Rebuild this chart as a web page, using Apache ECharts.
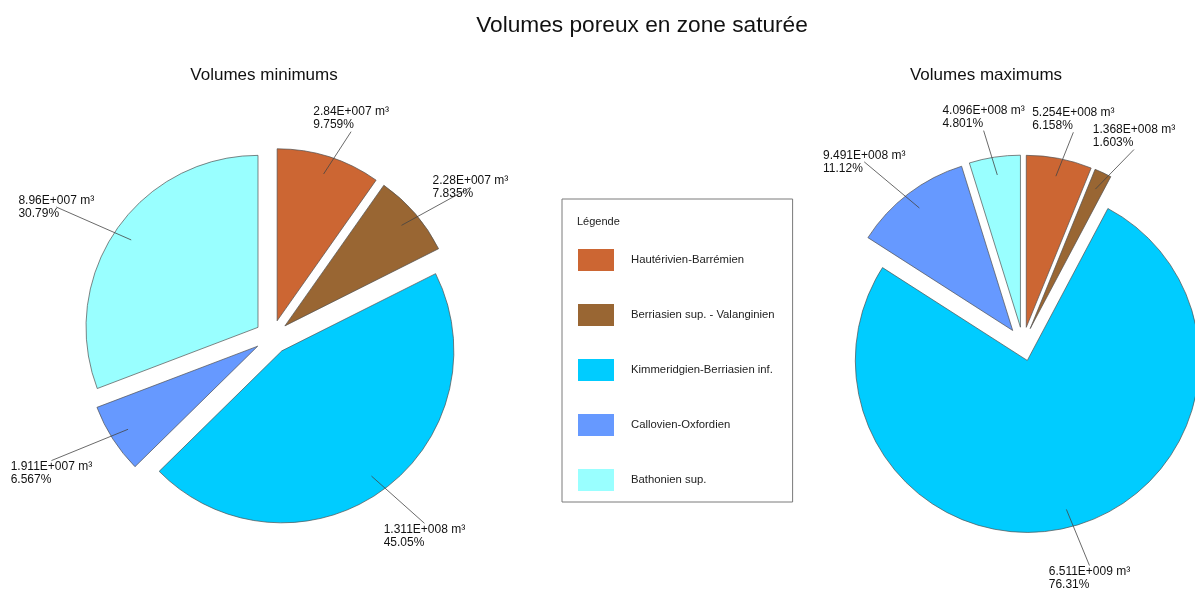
<!DOCTYPE html>
<html>
<head>
<meta charset="utf-8">
<script src="https://cdn.jsdelivr.net/npm/echarts@6/dist/echarts.min.js"></script>
<style>
  html, body { margin: 0; padding: 0; background: #ffffff; }
  #chart { width: 1195px; height: 589px; }
</style>
</head>
<body>
<div id="chart"></div>
<script>
// Geological units (slice order, clockwise from 12 o'clock)
const units = [
  'Hautérivien-Barrémien',
  'Berriasien sup. - Valanginien',
  'Kimmeridgien-Berriasien inf.',
  'Callovien-Oxfordien',
  'Bathonien sup.'
];
// Pore volumes in the saturated zone (m³)
const volumesMin = [2.84e7, 2.28e7, 1.311e8, 1.911e7, 8.96e7];
const volumesMax = [5.254e8, 1.368e8, 6.511e9, 9.491e8, 4.096e8];

const unitColors = ['#CC6633', '#996633', '#00CCFF', '#6699FF', '#99FFFF'];

const FONT = 'Liberation Sans, Arial, sans-serif';
const CLEAR = 'rgba(0,0,0,0)';

// 2.84E+007 style: 4 significant digits, trailing zeros dropped, 3-digit exponent
function sciText(v) {
  const exp = Math.floor(Math.log10(v));
  let mant = (v / Math.pow(10, exp)).toPrecision(4);
  mant = mant.replace(/\.?0+$/, '');
  return mant + 'E+' + String(exp).padStart(3, '0');
}

function makeFormatter(values) {
  const total = values.reduce((a, b) => a + b, 0);
  return function (p) {
    const pct = (p.value / total * 100).toPrecision(4);
    return sciText(p.value) + ' m³\n' + pct + '%';
  };
}

// Labels sit past the end of their leader line, drifting sideways with the
// line's direction; lower labels hang below the line, upper ones are centred on it.
const LABEL_DRIFT = 33;
function placeLabel(params) {
  const pts = params.labelLinePoints;
  if (!pts) return {};
  const start = pts[0];
  const end = pts[pts.length - 1];
  const w = params.labelRect.width;
  const h = params.labelRect.height;
  const ddx = end[0] - start[0];
  const ddy = end[1] - start[1];
  const len = Math.sqrt(ddx * ddx + ddy * ddy) || 1;
  const ux = ddx / len;
  const uy = ddy / len;
  const midX = end[0] + LABEL_DRIFT * ux;
  let top, tipY;
  if (uy > 0) {
    top = end[1];
    tipY = end[1];
  } else {
    top = end[1] - h / 2;
    tipY = Math.abs(uy) > 0.85 ? top + h : end[1];
  }
  return {
    x: midX - w / 2,
    y: top,
    align: 'left',
    verticalAlign: 'top',
    labelLinePoints: [start, [midX, tipY]]
  };
}

const PIE_R = 172;
const LEADER_R = 154;
const EXPLODE = 17;

// Each slice is drawn by its own pie series (the other slices kept invisible),
// whose centre is pushed outward along the slice's bisector.
function explodedPie(values, cx, cy) {
  const total = values.reduce((a, b) => a + b, 0);
  const fmt = makeFormatter(values);
  const out = [];
  let cum = 0;
  values.forEach((v, k) => {
    const mid = (cum + v / 2) / total * 2 * Math.PI;
    cum += v;
    const center = [cx + EXPLODE * Math.sin(mid), cy - EXPLODE * Math.cos(mid)];
    const dataFor = (isLeader) => units.map((name, i) => {
      const item = { name: name, value: values[i] };
      if (i !== k) {
        item.itemStyle = { color: CLEAR, borderWidth: 0, borderColor: CLEAR };
        item.label = { show: false };
        item.labelLine = { show: false };
      } else if (isLeader) {
        item.itemStyle = { color: CLEAR, borderWidth: 0 };
      }
      return item;
    });
    const common = {
      type: 'pie',
      center: center,
      startAngle: 90,
      clockwise: true,
      animation: false,
      silent: true,
      avoidLabelOverlap: false,
      emphasis: { disabled: true }
    };
    out.push(Object.assign({}, common, {
      radius: PIE_R,
      itemStyle: { borderColor: '#505050', borderWidth: 0.7 },
      label: { show: false },
      labelLine: { show: false },
      data: dataFor(false)
    }));
    out.push(Object.assign({}, common, {
      radius: LEADER_R,
      z: 3,
      label: {
        show: true,
        position: 'outside',
        alignTo: 'none',
        formatter: fmt,
        color: '#111',
        fontFamily: FONT,
        fontSize: 12,
        lineHeight: 13
      },
      labelLine: {
        show: true,
        length: 58,
        length2: 0,
        smooth: false,
        lineStyle: { color: '#444', width: 0.8 }
      },
      labelLayout: placeLabel,
      data: dataFor(true)
    }));
  });
  return out;
}

const chart = echarts.init(document.getElementById('chart'), null, { renderer: 'canvas' });

chart.setOption({
  backgroundColor: '#ffffff',
  animation: false,
  color: unitColors,
  title: [
    {
      text: 'Volumes poreux en zone saturée',
      left: 637, top: 9, textAlign: 'center',
      textStyle: { fontFamily: FONT, fontSize: 22.7, fontWeight: 'normal', color: '#111' }
    },
    {
      text: 'Volumes minimums',
      left: 259, top: 62, textAlign: 'center',
      textStyle: { fontFamily: FONT, fontSize: 17, fontWeight: 'normal', color: '#111' }
    },
    {
      text: 'Volumes maximums',
      left: 981, top: 62, textAlign: 'center',
      textStyle: { fontFamily: FONT, fontSize: 17, fontWeight: 'normal', color: '#111' }
    },
    {
      text: 'Légende',
      left: 572, top: 211,
      textStyle: { fontFamily: FONT, fontSize: 11, fontWeight: 'normal', color: '#222' }
    }
  ],
  legend: {
    orient: 'vertical',
    left: 562,
    top: 199,
    padding: [50, 18, 11, 16],
    itemWidth: 36,
    itemHeight: 22,
    itemGap: 33,
    icon: 'rect',
    borderColor: '#7a7a7a',
    borderWidth: 1,
    selectedMode: false,
    textStyle: { fontFamily: FONT, fontSize: 11.3, color: '#222', padding: [0, 0, 0, 12] },
    data: units.map((name, i) => ({
      name: name,
      itemStyle: { color: unitColors[i], borderWidth: 0, opacity: 1 }
    }))
  },
  series: [].concat(
    explodedPie(volumesMin, 272, 337),
    explodedPie(volumesMax, 1023, 344)
  )
});
</script>
</body>
</html>
